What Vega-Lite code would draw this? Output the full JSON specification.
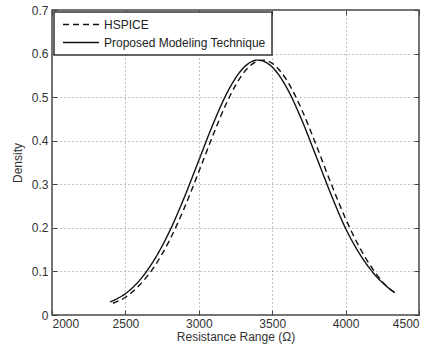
{
  "$schema": "https://vega.github.io/schema/vega-lite/v6.json",
  "autosize": "none",
  "width": 367,
  "height": 305,
  "padding": {"left": 52, "top": 10, "right": 16, "bottom": 34},
  "background": "white",
  "config": {
    "font": "Liberation Sans",
    "view": {"stroke": "#444", "strokeWidth": 1.5},
    "axis": {
      "labelFont": "Liberation Sans",
      "titleFont": "Liberation Sans",
      "labelFontSize": 12,
      "titleFontSize": 12,
      "titleFontWeight": "normal",
      "labelColor": "#333",
      "titleColor": "#333",
      "domain": false,
      "tickColor": "#444",
      "tickWidth": 1,
      "gridColor": "#888",
      "gridDash": [1, 3],
      "gridWidth": 1,
      "gridOpacity": 1
    },
    "legend": {"strokeWidth": 1.5}
  },
  "data": {
    "values": [
      {"r": 2395, "d": 0.030, "s": "Proposed Modeling Technique"},
      {"r": 2500, "d": 0.049, "s": "Proposed Modeling Technique"},
      {"r": 2600, "d": 0.081, "s": "Proposed Modeling Technique"},
      {"r": 2700, "d": 0.1286, "s": "Proposed Modeling Technique"},
      {"r": 2800, "d": 0.1916, "s": "Proposed Modeling Technique"},
      {"r": 2900, "d": 0.2689, "s": "Proposed Modeling Technique"},
      {"r": 3000, "d": 0.3548, "s": "Proposed Modeling Technique"},
      {"r": 3100, "d": 0.4406, "s": "Proposed Modeling Technique"},
      {"r": 3200, "d": 0.5147, "s": "Proposed Modeling Technique"},
      {"r": 3300, "d": 0.5657, "s": "Proposed Modeling Technique"},
      {"r": 3400, "d": 0.585, "s": "Proposed Modeling Technique"},
      {"r": 3500, "d": 0.5691, "s": "Proposed Modeling Technique"},
      {"r": 3600, "d": 0.521, "s": "Proposed Modeling Technique"},
      {"r": 3700, "d": 0.4487, "s": "Proposed Modeling Technique"},
      {"r": 3800, "d": 0.3636, "s": "Proposed Modeling Technique"},
      {"r": 3900, "d": 0.2772, "s": "Proposed Modeling Technique"},
      {"r": 4000, "d": 0.1988, "s": "Proposed Modeling Technique"},
      {"r": 4100, "d": 0.138, "s": "Proposed Modeling Technique"},
      {"r": 4200, "d": 0.092, "s": "Proposed Modeling Technique"},
      {"r": 4300, "d": 0.060, "s": "Proposed Modeling Technique"},
      {"r": 4335, "d": 0.051, "s": "Proposed Modeling Technique"},
      {"r": 2415, "d": 0.027, "s": "HSPICE"},
      {"r": 2500, "d": 0.0407, "s": "HSPICE"},
      {"r": 2600, "d": 0.0699, "s": "HSPICE"},
      {"r": 2700, "d": 0.1127, "s": "HSPICE"},
      {"r": 2800, "d": 0.1711, "s": "HSPICE"},
      {"r": 2900, "d": 0.2445, "s": "HSPICE"},
      {"r": 3000, "d": 0.3286, "s": "HSPICE"},
      {"r": 3100, "d": 0.4155, "s": "HSPICE"},
      {"r": 3200, "d": 0.4944, "s": "HSPICE"},
      {"r": 3300, "d": 0.5534, "s": "HSPICE"},
      {"r": 3400, "d": 0.5828, "s": "HSPICE"},
      {"r": 3435, "d": 0.585, "s": "HSPICE"},
      {"r": 3500, "d": 0.5775, "s": "HSPICE"},
      {"r": 3600, "d": 0.5384, "s": "HSPICE"},
      {"r": 3700, "d": 0.4723, "s": "HSPICE"},
      {"r": 3800, "d": 0.3897, "s": "HSPICE"},
      {"r": 3900, "d": 0.3026, "s": "HSPICE"},
      {"r": 4000, "d": 0.2211, "s": "HSPICE"},
      {"r": 4100, "d": 0.152, "s": "HSPICE"},
      {"r": 4200, "d": 0.0983, "s": "HSPICE"},
      {"r": 4300, "d": 0.0598, "s": "HSPICE"},
      {"r": 4340, "d": 0.051, "s": "HSPICE"}
    ]
  },
  "layer": [
    {
      "mark": {"type": "line", "interpolate": "monotone", "strokeWidth": 1.4, "color": "#111"},
      "encoding": {
        "x": {
          "field": "r", "type": "quantitative",
          "scale": {"domain": [2000, 4500], "nice": false},
          "axis": {
            "orient": "bottom",
            "values": [2000, 2500, 3000, 3500, 4000, 4500],
            "format": "d",
            "offset": -5,
            "tickSize": 5,
            "labelPadding": 3,
            "grid": true,
            "title": "Resistance Range (Ω)",
            "titlePadding": 2
          }
        },
        "y": {
          "field": "d", "type": "quantitative",
          "scale": {"domain": [0, 0.7], "nice": false},
          "axis": {
            "orient": "left",
            "values": [0, 0.1, 0.2, 0.3, 0.4, 0.5, 0.6, 0.7],
            "format": "~g",
            "offset": -5,
            "tickSize": 5,
            "labelPadding": 4,
            "grid": true,
            "title": "Density",
            "titlePadding": 7
          }
        },
        "strokeDash": {
          "field": "s", "type": "nominal",
          "scale": {"domain": ["HSPICE", "Proposed Modeling Technique"], "range": [[6, 4], [1, 0]]},
          "legend": {
            "title": null,
            "orient": "none",
            "legendX": 2,
            "legendY": 2,
            "symbolType": "M-3.27,0H3.27",
            "symbolSize": 121,
            "symbolOffset": 14.5,
            "symbolStrokeWidth": 1.4,
            "symbolStrokeColor": "#111",
            "labelFont": "Liberation Sans",
            "labelFontSize": 12,
            "labelColor": "#222",
            "labelLimit": 400,
            "rowPadding": 5,
            "padding": 6,
            "strokeColor": "#333",
            "fillColor": "white",
            "labelOffset": 16.5
          }
        }
      }
    },
    {
      "mark": {"type": "line", "opacity": 0},
      "encoding": {
        "x": {
          "field": "r", "type": "quantitative",
          "scale": {"domain": [2000, 4500], "nice": false},
          "axis": {"orient": "top", "values": [2000, 2500, 3000, 3500, 4000, 4500], "labels": false, "offset": -5, "tickSize": 5, "grid": false, "title": null}
        },
        "y": {
          "field": "d", "type": "quantitative",
          "scale": {"domain": [0, 0.7], "nice": false},
          "axis": {"orient": "right", "values": [0, 0.1, 0.2, 0.3, 0.4, 0.5, 0.6, 0.7], "labels": false, "offset": -5, "tickSize": 5, "grid": false, "title": null}
        }
      }
    }
  ],
  "resolve": {"axis": {"x": "independent", "y": "independent"}}
}
